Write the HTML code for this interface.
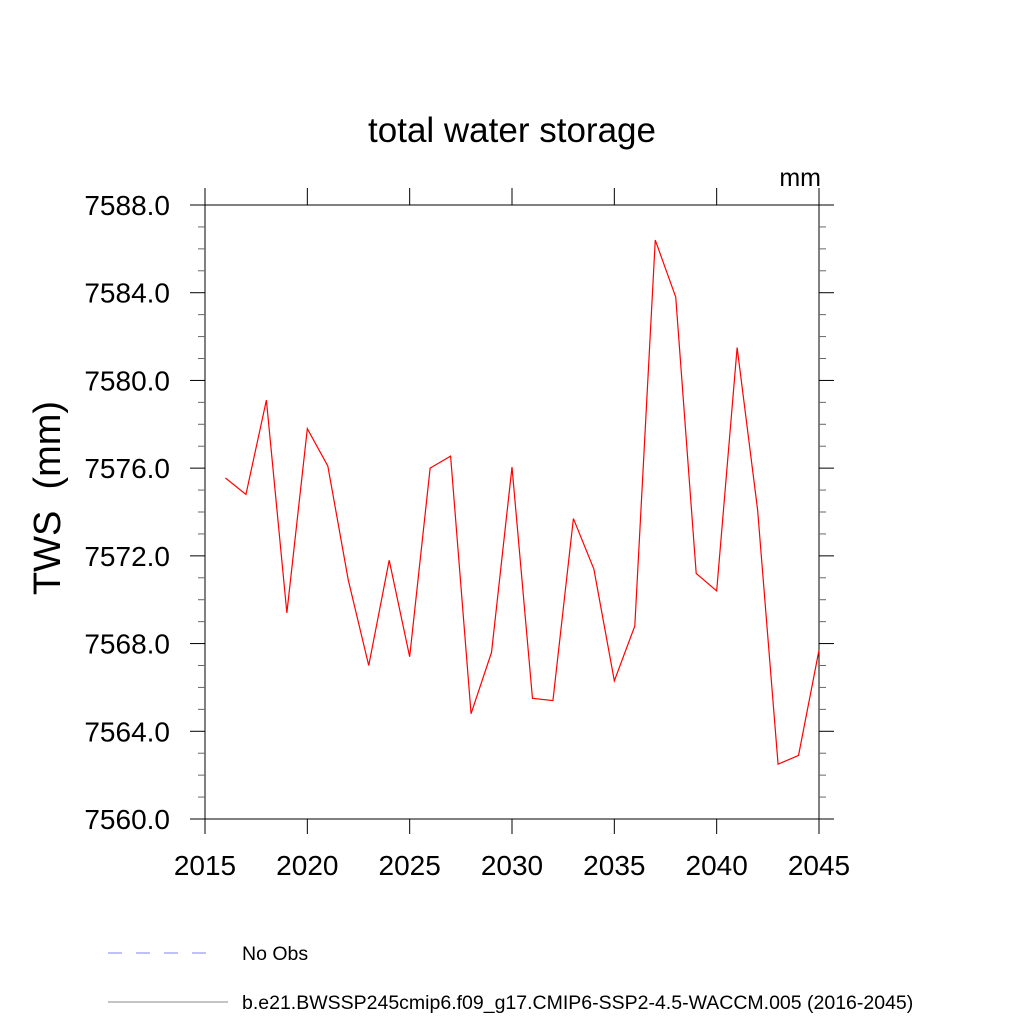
<!DOCTYPE html>
<html><head><meta charset="utf-8"><style>
html,body{margin:0;padding:0;background:#fff}
svg{display:block;font-family:"Liberation Sans",sans-serif}
</style></head><body>
<svg id="chart" width="1024" height="1024" xmlns="http://www.w3.org/2000/svg">
<text x="512" y="142" font-size="35" text-anchor="middle">total water storage</text>
<text x="821" y="186" font-size="25" text-anchor="end">mm</text>
<text transform="translate(60,498) rotate(-90)" font-size="38" text-anchor="middle">TWS&#160; (mm)</text>
<g id="axes"></g>
<g id="series"></g>
<g>
<line x1="108" y1="953" x2="216" y2="953" stroke="#8080ff" stroke-width="1" stroke-dasharray="14,14"/>
<text x="242" y="960" font-size="19.5">No Obs</text>
<line x1="108" y1="1002" x2="228" y2="1002" stroke="#888" stroke-width="1"/>
<text x="242" y="1009" font-size="19.5">b.e21.BWSSP245cmip6.f09_g17.CMIP6-SSP2-4.5-WACCM.005 (2016-2045)</text>
</g>
</svg>
<script>
const years = [2016,2017,2018,2019,2020,2021,2022,2023,2024,2025,2026,2027,2028,2029,2030,2031,2032,2033,2034,2035,2036,2037,2038,2039,2040,2041,2042,2043,2044,2045];
const tws = [7575.55,7574.8,7579.1,7569.4,7577.8,7576.1,7570.9,7567.0,7571.8,7567.4,7576.0,7576.55,7564.8,7567.6,7576.05,7565.5,7565.4,7573.7,7571.4,7566.3,7568.8,7586.4,7583.8,7571.2,7570.4,7581.5,7574.1,7562.5,7562.9,7567.7];
const xTicks = [2015,2020,2025,2030,2035,2040,2045];
const yTicks = [7560,7564,7568,7572,7576,7580,7584,7588];
const xMin=2015,xMax=2045,yMin=7560,yMax=7588;
const L=205,R=819,T=205,B=819;
const sx=v=>L+(v-xMin)/(xMax-xMin)*(R-L);
const sy=v=>B-(v-yMin)/(yMax-yMin)*(B-T);
const NS="http://www.w3.org/2000/svg";
const axes=document.getElementById('axes');
function mk(tag,attrs,parent){const e=document.createElementNS(NS,tag);for(const k in attrs)e.setAttribute(k,attrs[k]);parent.appendChild(e);return e;}
const frame=mk('rect',{x:L,y:T,width:R-L,height:B-T,fill:'none',stroke:'#000','stroke-width':1},axes);


for(let v=yMin;v<=yMax+0.001;v+=1){
  const major=Math.abs((v-yMin)%4)<0.001;const len=major?15:7;const y=sy(v);
  const t1=mk('line',{x1:L-len,y1:y,x2:L,y2:y,stroke:major?'#000':'#666','stroke-width':1},axes);
  
  
  const t2=mk('line',{x1:R,y1:y,x2:R+len,y2:y,stroke:major?'#000':'#666','stroke-width':1},axes);
  
  
}
yTicks.forEach(v=>{
  const t=mk('text',{x:170,y:sy(v)+10,'font-size':28,'text-anchor':'end'},axes);t.textContent=v.toFixed(1);
  
  
});
xTicks.forEach(v=>{
  const x=sx(v);
  const a=mk('line',{x1:x,y1:B,x2:x,y2:B+15,stroke:'#000'},axes);
  
  
  const b=mk('line',{x1:x,y1:T-17,x2:x,y2:T,stroke:'#000'},axes);
  
  
  const t=mk('text',{x:x,y:875,'font-size':28,'text-anchor':'middle'},axes);t.textContent=v;
  
  
});
const line=mk('polyline',{points:years.map((y,i)=>sx(y)+','+sy(tws[i])).join(' '),fill:'none',stroke:'#ff0000','stroke-width':1.2},document.getElementById('series'));


</script>
</body></html>
